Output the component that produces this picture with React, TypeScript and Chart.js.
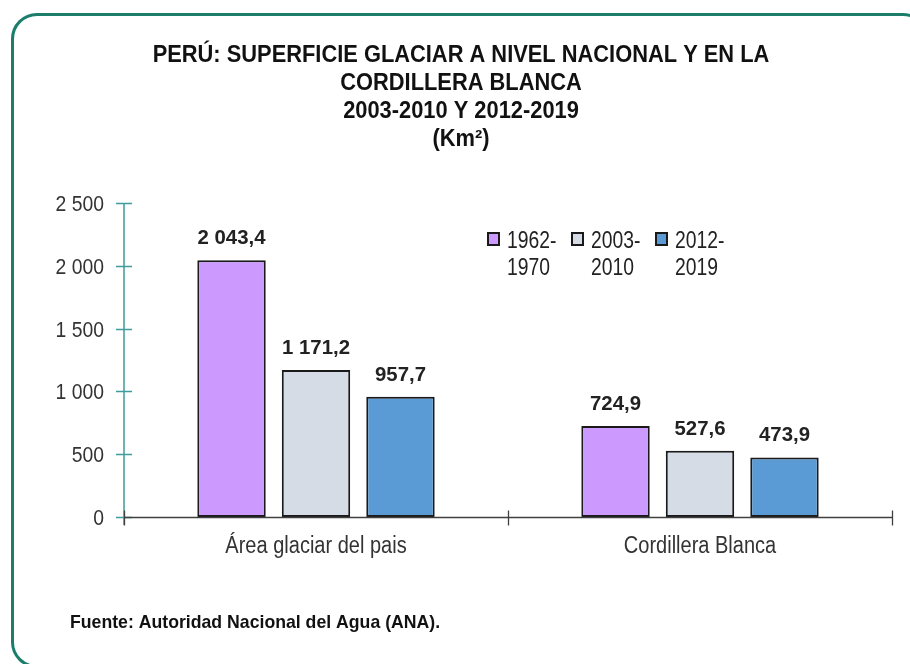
import React, { useEffect, useRef } from "react";
import { Chart, registerables } from "chart.js";

Chart.register(...registerables);

const categories = ["Área glaciar del pais", "Cordillera Blanca"];
const seriesLabels = [["1962-", "1970"], ["2003-", "2010"], ["2012-", "2019"]];
const series1962 = [2043.4, 724.9];
const series2003 = [1171.2, 527.6];
const series2012 = [957.7, 473.9];
const yTicks = [0, 500, 1000, 1500, 2000, 2500];
const titleLines = [
  "PERÚ: SUPERFICIE GLACIAR A NIVEL NACIONAL Y EN LA",
  "CORDILLERA BLANCA",
  "2003-2010 Y 2012-2019",
  "(Km²)",
];
const sourceNote = "Fuente: Autoridad Nacional del Agua (ANA).";
const colors = ["#cc99ff", "#d6dce5", "#5b9bd5"];

const FONT = "'Liberation Sans', Arial, sans-serif";

function fmt(v: number, decimals: number) {
  const s = Number(v).toFixed(decimals);
  const [i, d] = s.split(".");
  const ii = i.replace(/\B(?=(\d{3})+(?!\d))/g, " ");
  return d ? ii + "," + d : ii;
}

type TStyle = { size: number; bold?: boolean; sx: number; align?: CanvasTextAlign; color: string };

function text(ctx: CanvasRenderingContext2D, str: string, x: number, y: number, st: TStyle) {
  ctx.save();
  ctx.translate(x, y);
  ctx.scale(st.sx, 1);
  ctx.font = `${st.bold ? "bold " : ""}${st.size}px ${FONT}`;
  ctx.fillStyle = st.color;
  ctx.textAlign = st.align || "left";
  ctx.textBaseline = "alphabetic";
  ctx.fillText(str, 0, 0);
  ctx.restore();
}

const titleStyle: TStyle = { size: 23, bold: true, sx: 0.95, align: "center", color: "#111" };
const tickStyle: TStyle = { size: 22, sx: 0.88, align: "right", color: "#333" };
const catStyle: TStyle = { size: 23, sx: 0.87, align: "center", color: "#333" };
const valueStyle: TStyle = { size: 21, bold: true, sx: 0.97, align: "center", color: "#222" };
const legendStyle: TStyle = { size: 23, sx: 0.84, align: "left", color: "#222" };
const noteStyle: TStyle = { size: 19, bold: true, sx: 0.93, align: "left", color: "#111" };

const decor = {
  id: "decor",
  afterDatasetsDraw(chart: any) {
    const ctx = chart.ctx as CanvasRenderingContext2D;
    const { left, right, top, bottom } = chart.chartArea;
    const xs = chart.scales.x;
    const ys = chart.scales.y;
    ctx.save();
    // y axis
    ctx.strokeStyle = "#3f9c9c";
    ctx.lineWidth = 1.5;
    ctx.beginPath();
    ctx.moveTo(left, top);
    ctx.lineTo(left, bottom + 8);
    yTicks.forEach((v) => {
      const py = Math.round(ys.getPixelForValue(v)) + 0.5;
      ctx.moveTo(left - 8, py);
      ctx.lineTo(left + 8, py);
    });
    ctx.stroke();
    // x axis
    ctx.strokeStyle = "#404040";
    ctx.lineWidth = 1.3;
    ctx.beginPath();
    const by = Math.round(bottom) + 0.5;
    ctx.moveTo(left, by);
    ctx.lineTo(right, by);
    for (let i = 0; i <= categories.length; i++) {
      const px = Math.round(xs.getPixelForValue(i - 0.5)) + 0.5;
      ctx.moveTo(px, by - 7);
      ctx.lineTo(px, by + 8);
    }
    ctx.stroke();
    ctx.restore();

    // tick labels
    yTicks.forEach((v) => {
      text(ctx, fmt(v, 0), left - 20, ys.getPixelForValue(v) + 8, tickStyle);
    });
    categories.forEach((c, i) => {
      text(ctx, c, xs.getPixelForValue(i), bottom + 36, catStyle);
    });

    // data labels
    chart.data.datasets.forEach((ds: any, di: number) => {
      const meta = chart.getDatasetMeta(di);
      meta.data.forEach((el: any, i: number) => {
        text(ctx, fmt(ds.data[i], 1), el.x, el.y - 16, valueStyle);
      });
    });

    // legend
    chart.data.datasets.forEach((ds: any, di: number) => {
      const x0 = 488 + di * 84;
      const y0 = 233;
      ctx.save();
      ctx.fillStyle = ds.backgroundColor;
      ctx.fillRect(x0, y0, 11, 12);
      ctx.strokeStyle = "#1a1a1a";
      ctx.lineWidth = 2;
      ctx.strokeRect(x0, y0, 11, 12);
      ctx.restore();
      const lines: string[] = ds.legendLines;
      lines.forEach((t, li) => {
        text(ctx, t, x0 + 19, 248 + li * 27, legendStyle);
      });
    });
  },
  afterDraw(chart: any) {
    const ctx = chart.ctx as CanvasRenderingContext2D;
    titleLines.forEach((t, i) => {
      text(ctx, t, 461, 62 + i * 28, titleStyle);
    });
    text(ctx, sourceNote, 70, 628, noteStyle);
  },
};

export default function App() {
  const ref = useRef<HTMLCanvasElement | null>(null);
  useEffect(() => {
    if (!ref.current) return;
    const chart = new Chart(ref.current, {
      type: "bar",
      data: {
        labels: categories,
        datasets: [series1962, series2003, series2012].map((d, i) => ({
          label: seriesLabels[i].join(""),
          legendLines: seriesLabels[i],
          data: d,
          backgroundColor: colors[i],
          borderColor: "#1a1a1a",
          borderWidth: 2,
          borderSkipped: false,
          categoryPercentage: 0.66,
          barPercentage: 0.81,
        })) as any,
      },
      options: {
        responsive: false,
        animation: false,
        layout: { padding: { left: 124, right: 18, top: 203, bottom: 147 } },
        plugins: {
          legend: { display: false },
          tooltip: { enabled: false },
          title: { display: false },
        },
        scales: {
          x: { display: false },
          y: { display: false, min: 0, max: 2500 },
        },
      } as any,
      plugins: [decor],
    });
    return () => chart.destroy();
  }, []);
  return (
    <div style={{ position: "absolute", left: 0, top: 0, width: 910, height: 664, overflow: "hidden", background: "#fff" }}>
      <div
        style={{
          position: "absolute",
          left: 11,
          top: 13,
          width: 918,
          height: 655,
          border: "3px solid #1b7d6a",
          borderRadius: 26,
          boxSizing: "border-box",
        }}
      />
      <canvas ref={ref} width={910} height={664} style={{ position: "absolute", left: 0, top: 0, display: "block" }} />
    </div>
  );
}
